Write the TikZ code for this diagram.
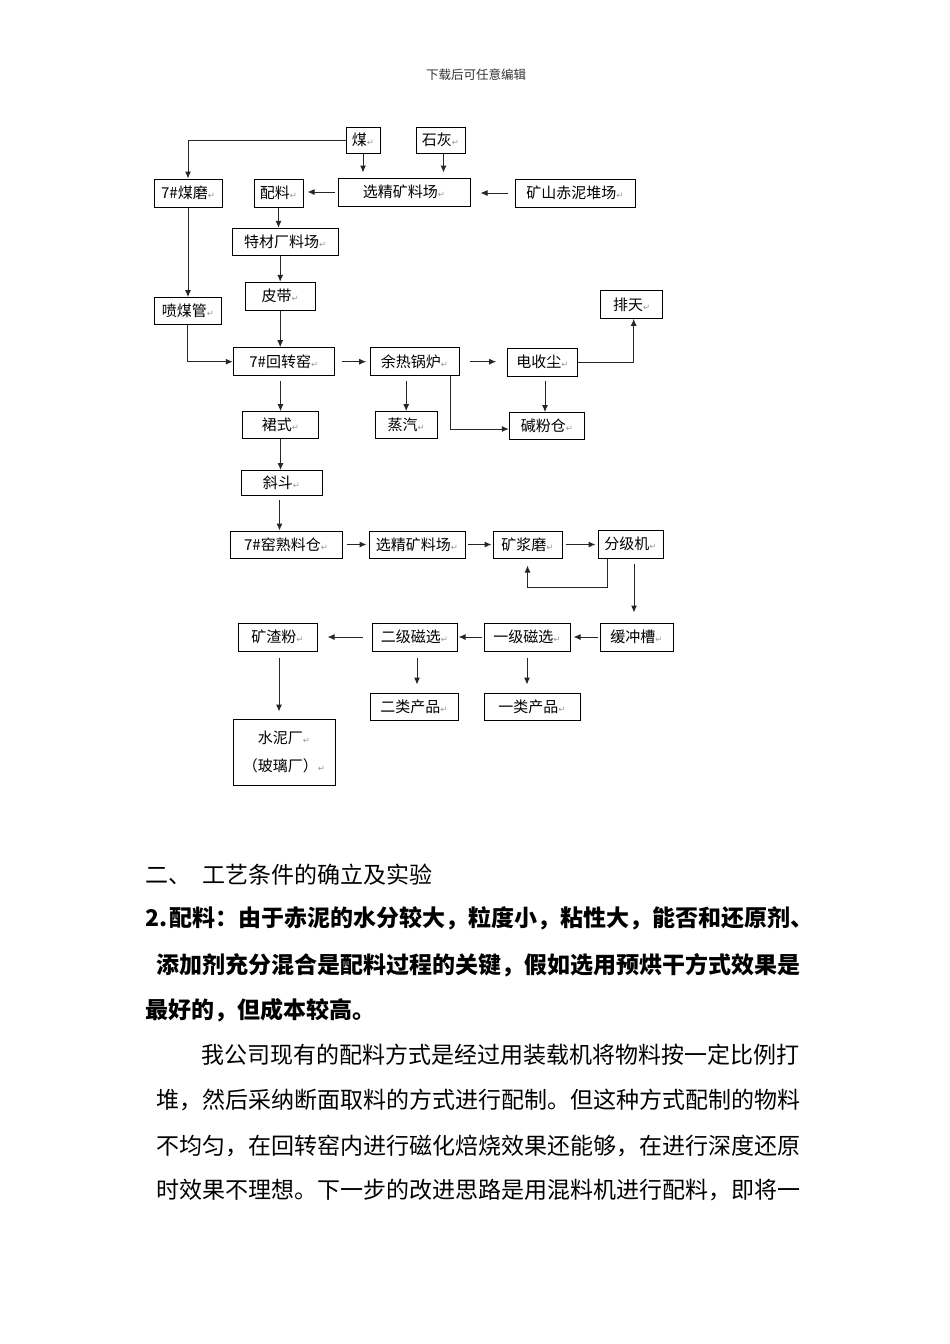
\documentclass[tikz,border=0pt]{standalone}
\usepackage{fontspec}
\usetikzlibrary{arrows.meta}
\newfontfamily\cjk{Noto Sans CJK SC}
\newfontfamily\dejavu{DejaVu Sans}
\newcommand\rtn{{\color{black!40}\dejavu\fontsize{8.5}{8.5}\selectfont ↵}}
\newcommand\bx[6]{\node[box,minimum width=#4,minimum height=#5] (#1) at (#2,#3) {#6};}
\tikzset{
  box/.style={draw=black, line width=1pt, inner sep=0pt, font={\cjk\fontsize{15}{15}\selectfont}, text=black},
  arr/.style={draw=black!85, line width=1pt, -{Latex[length=7pt,width=6pt]}},
  body/.style={anchor=west, inner sep=0pt, font={\cjk\fontsize{23}{23}\selectfont}, text=black},
}
\begin{document}
\begin{tikzpicture}[x=1pt,y=-1pt]
\useasboundingbox (0,0) rectangle (950,1344);
\fill[white] (0,0) rectangle (950,1344);

% header
\node[inner sep=0pt, font={\cjk\fontsize{12.5}{12.5}\selectfont}, text=black!80] (hdr) at (476,75) {下载后可任意编辑};

% boxes
\bx{mei}{363}{140}{34}{26}{煤\rtn}
\bx{shihui}{440.5}{140}{49}{26}{石灰\rtn}
\bx{meimo}{188}{193}{68}{28}{7\#煤磨\rtn}
\bx{peiliao}{278.5}{193}{49}{28}{配料\rtn}
\bx{xjka}{404}{192}{132}{28}{选精矿料场\rtn}
\bx{kuangshan}{575}{193}{120}{28}{矿山赤泥堆场\rtn}
\bx{tecai}{285.2}{241.7}{105.7}{26.7}{特材厂料场\rtn}
\bx{pidai}{280.2}{296.2}{69.7}{27.7}{皮带\rtn}
\bx{penmei}{187.9}{311}{67.7}{26.6}{喷煤管\rtn}
\bx{paitian}{631.7}{304.5}{62}{27.6}{排天\rtn}
\bx{huizhuan}{283.8}{361.7}{101}{28}{7\#回转窑\rtn}
\bx{yure}{414.5}{361.7}{89}{28}{余热锅炉\rtn}
\bx{dianshou}{542.5}{362}{70.4}{28}{电收尘\rtn}
\bx{qunshi}{280.5}{425.3}{75.6}{27.3}{裙式\rtn}
\bx{zhengqi}{406.2}{425.3}{62.3}{27.3}{蒸汽\rtn}
\bx{jianfen}{547}{426}{75.4}{26.6}{碱粉仓\rtn}
\bx{xiedou}{281.5}{483}{81}{25}{斜斗\rtn}
\bx{shuliao}{286}{544.5}{112}{27}{7\#窑熟料仓\rtn}
\bx{xjkb}{417}{544.5}{96}{27}{选精矿料场\rtn}
\bx{kuangjiang}{527.5}{544.5}{69}{27}{矿浆磨\rtn}
\bx{fenji}{630.5}{544}{65}{28}{分级机\rtn}
\bx{huanchong}{636.5}{637}{73}{28}{缓冲槽\rtn}
\bx{yiji}{527}{637}{86}{28}{一级磁选\rtn}
\bx{erji}{414.5}{637}{85}{28}{二级磁选\rtn}
\bx{kuangzha}{277.5}{637}{79}{28}{矿渣粉\rtn}
\bx{erlei}{414}{706.5}{88}{27}{二类产品\rtn}
\bx{yilei}{532}{706.5}{96}{27}{一类产品\rtn}
\node[box, minimum width=102, minimum height=66, align=center] (shuini) at (284,752) {水泥厂\rtn\\[13pt]（玻璃厂）\rtn};

% connectors
\draw[arr] (mei.west) -| (meimo.north);
\draw[arr, shorten >=5] (mei.south) -- (mei.south |- xjka.north);
\draw[arr, shorten >=5] ([xshift=3]shihui.south) -- ([xshift=3]shihui.south |- xjka.north);
\draw[arr, shorten <=3, shorten >=4] (xjka.west) -- (xjka.west -| peiliao.east);
\draw[arr, shorten <=7, shorten >=10] (kuangshan.west) -- (kuangshan.west -| xjka.east);
\draw[arr] (peiliao.south) -- (peiliao.south |- tecai.north);
\draw[arr] (pidai.north |- tecai.south) -- (pidai.north);
\draw[arr] (pidai.south) -- (pidai.south |- huizhuan.north);
\draw[arr] (meimo.south) -- (meimo.south |- penmei.north);
\draw[arr] (penmei.south) |- (huizhuan.west);
\draw[arr, shorten <=6.7, shorten >=3.3] (huizhuan.east) -- (yure.west);
\draw[arr, shorten <=10, shorten >=10.6] (yure.east) -- (yure.east -| dianshou.west);
\draw[arr] (dianshou.east) -| ([xshift=2]paitian.south);
\draw[arr, shorten <=5] (qunshi.north |- huizhuan.south) -- (qunshi.north);
\draw[arr, shorten <=5] (zhengqi.north |- yure.south) -- (zhengqi.north);
\draw[arr] ([xshift=-9]yure.south east) |- ([yshift=-3]jianfen.west);
\draw[arr, shorten <=4] ([xshift=2.5]dianshou.south) -- ([xshift=2.5]dianshou.south |- jianfen.north);
\draw[arr] (qunshi.south) -- (qunshi.south |- xiedou.north);
\draw[arr, shorten <=4] ([xshift=-2]xiedou.south) -- ([xshift=-2]xiedou.south |- shuliao.north);
\draw[arr, shorten <=4, shorten >=2] (shuliao.east) -- (xjkb.west);
\draw[arr, shorten <=2, shorten >=1] (xjkb.east) -- (kuangjiang.west);
\draw[arr, shorten <=3, shorten >=2] (kuangjiang.east) -- (kuangjiang.east -| fenji.west);
\draw[arr, shorten >=7] ([xshift=-23.5]fenji.south) -- ++(0,29) -| (kuangjiang.south);
\draw[arr, shorten <=5, shorten >=10] ([xshift=3.5]fenji.south) -- ([xshift=3.5]fenji.south |- huanchong.north);
\draw[arr, shorten <=2, shorten >=3] (huanchong.west) -- (yiji.east);
\draw[arr, shorten <=2, shorten >=1] (yiji.west) -- (erji.east);
\draw[arr, shorten <=9, shorten >=10] (erji.west) -- (kuangzha.east);
\draw[arr, shorten <=6, shorten >=8] ([xshift=2.5]erji.south) -- ([xshift=2.5]erji.south |- erlei.north);
\draw[arr, shorten <=6, shorten >=8] (yiji.south) -- (yiji.south |- yilei.north);
\draw[arr, shorten <=6, shorten >=7] ([xshift=1.5]kuangzha.south) -- ([xshift=1.5]kuangzha.south |- shuini.north);

% body text
\node[body] (t1) at (145,875) {二、\hspace{11.5pt}工艺条件的确立及实验};
\node[body, font={\cjk\bfseries\fontsize{23}{23}\selectfont}] (t2) at (145,918) {2.\hspace{2pt}配料：由于赤泥的水分较大，粒度小，粘性大，能否和还原剂、};
\node[body, font={\cjk\bfseries\fontsize{23}{23}\selectfont}] (t3) at (156,965) {添加剂充分混合是配料过程的关键，假如选用预烘干方式效果是};
\node[body, font={\cjk\bfseries\fontsize{23}{23}\selectfont}] (t4) at (145,1010) {最好的，但成本较高。};
\node[body] (t5) at (201.7,1055) {我公司现有的配料方式是经过用装载机将物料按一定比例打};
\node[body] (t6) at (156,1100) {堆，然后采纳断面取料的方式进行配制。但这种方式配制的物料};
\node[body] (t7) at (156,1146) {不均匀，在回转窑内进行磁化焙烧效果还能够，在进行深度还原};
\node[body] (t8) at (156,1190) {时效果不理想。下一步的改进思路是用混料机进行配料，即将一};
\end{tikzpicture}
\end{document}
